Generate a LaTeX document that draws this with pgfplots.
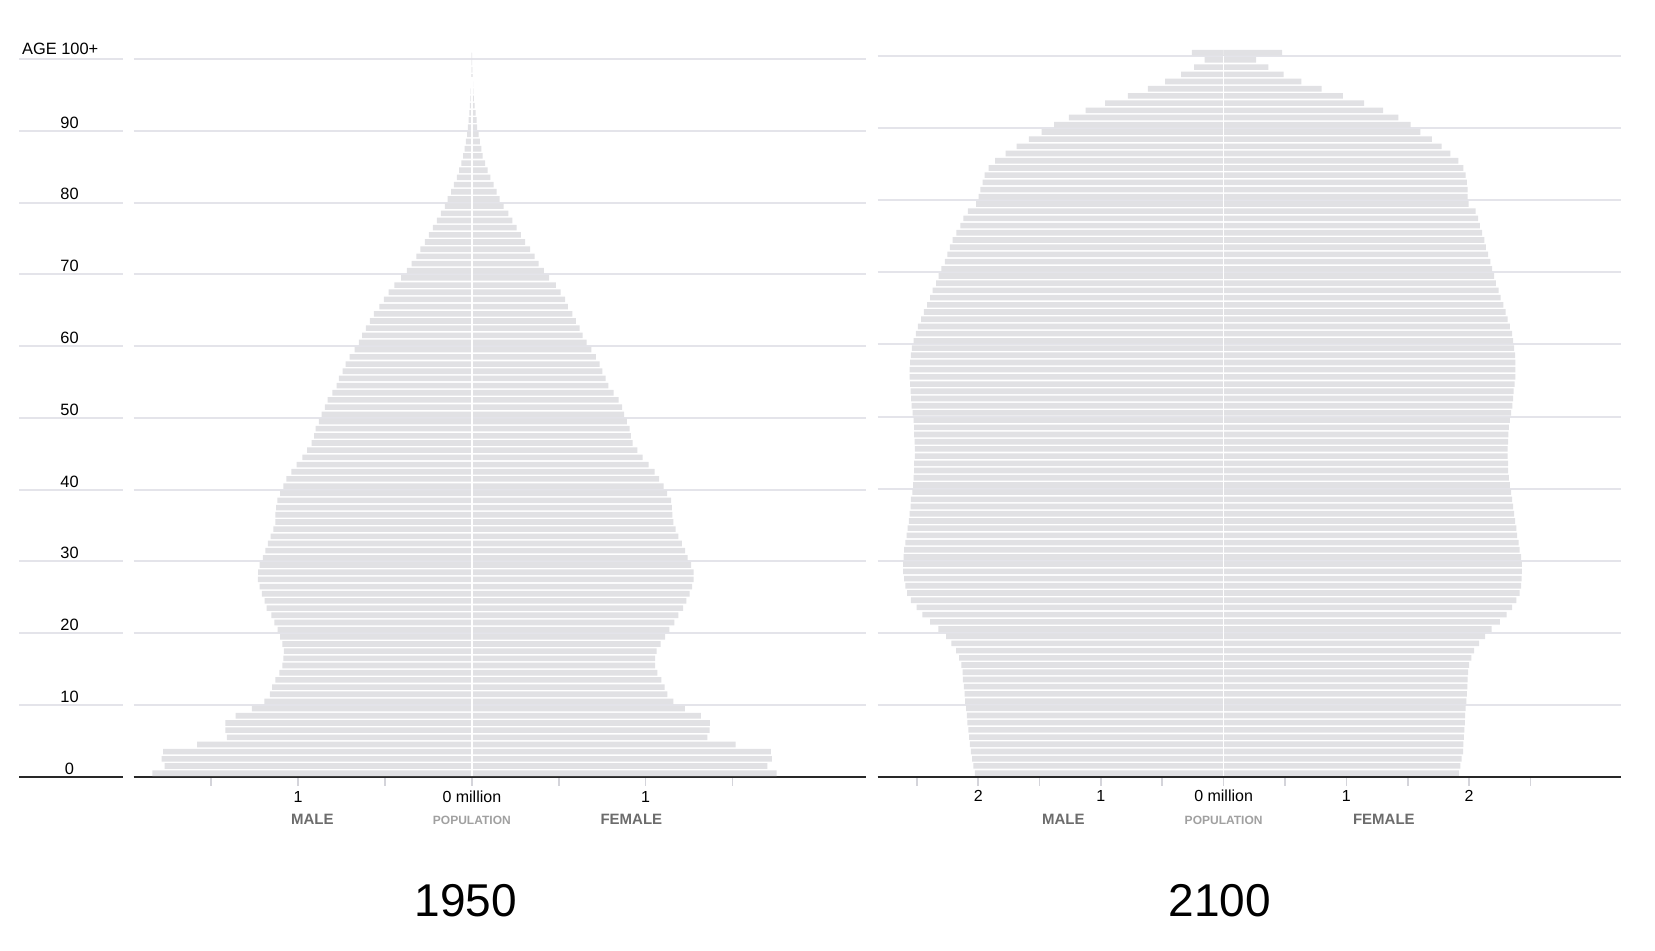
\documentclass[border=0pt]{standalone}
\usepackage{pgfplots}
\pgfplotsset{compat=1.18}
\usepackage{pgfplotstable}
\usepackage{fontspec}
\setmainfont{Liberation Sans}
\definecolor{barc}{RGB}{225,225,228}
\definecolor{gridc}{RGB}{228,228,234}
\definecolor{labc}{RGB}{108,108,108}
\definecolor{popc}{RGB}{160,160,160}
\definecolor{axc}{RGB}{40,40,40}
\definecolor{tickc}{RGB}{212,212,218}

\pgfplotstableread{
age male female
0 1.838 1.754
1 1.768 1.701
2 1.785 1.726
3 1.776 1.720
4 1.581 1.517
5 1.410 1.355
6 1.419 1.368
7 1.419 1.370
8 1.359 1.318
9 1.266 1.226
10 1.194 1.160
11 1.163 1.125
12 1.149 1.109
13 1.130 1.091
14 1.107 1.068
15 1.091 1.054
16 1.084 1.054
17 1.082 1.063
18 1.091 1.086
19 1.103 1.112
20 1.117 1.137
21 1.137 1.165
22 1.153 1.188
23 1.181 1.216
24 1.193 1.234
25 1.209 1.253
26 1.221 1.267
27 1.232 1.276
28 1.230 1.276
29 1.221 1.262
30 1.202 1.241
31 1.188 1.227
32 1.174 1.209
33 1.158 1.188
34 1.142 1.172
35 1.130 1.160
36 1.130 1.153
37 1.126 1.151
38 1.119 1.147
39 1.103 1.123
40 1.084 1.103
41 1.068 1.077
42 1.038 1.052
43 1.008 1.017
44 0.976 0.982
45 0.948 0.952
46 0.922 0.925
47 0.908 0.915
48 0.899 0.908
49 0.881 0.892
50 0.865 0.876
51 0.846 0.865
52 0.830 0.844
53 0.802 0.816
54 0.778 0.785
55 0.765 0.770
56 0.744 0.751
57 0.726 0.735
58 0.703 0.714
59 0.675 0.687
60 0.650 0.661
61 0.631 0.638
62 0.610 0.620
63 0.587 0.599
64 0.564 0.578
65 0.532 0.552
66 0.506 0.536
67 0.479 0.511
68 0.446 0.483
69 0.407 0.444
70 0.374 0.414
71 0.347 0.384
72 0.319 0.361
73 0.296 0.335
74 0.270 0.307
75 0.247 0.282
76 0.224 0.257
77 0.201 0.233
78 0.178 0.210
79 0.155 0.183
80 0.139 0.160
81 0.120 0.143
82 0.104 0.125
83 0.086 0.106
84 0.074 0.090
85 0.060 0.076
86 0.051 0.062
87 0.042 0.055
88 0.035 0.046
89 0.028 0.039
90 0.023 0.030
91 0.018 0.028
92 0.014 0.021
93 0.012 0.016
94 0.009 0.012
95 0.007 0.009
96 0.005 0.007
97 0.003 0.005
98 0.002 0.003
99 0.001 0.002
100 0.001 0.001
}\pyrA

\pgfplotstableread{
age male female
0 2.028 1.919
1 2.039 1.929
2 2.049 1.940
3 2.060 1.951
4 2.067 1.954
5 2.074 1.958
6 2.081 1.961
7 2.088 1.965
8 2.092 1.968
9 2.099 1.972
10 2.106 1.979
11 2.110 1.982
12 2.117 1.986
13 2.124 1.989
14 2.127 1.993
15 2.138 2.000
16 2.155 2.018
17 2.180 2.042
18 2.219 2.081
19 2.261 2.131
20 2.325 2.184
21 2.392 2.251
22 2.456 2.307
23 2.502 2.350
24 2.548 2.385
25 2.580 2.413
26 2.594 2.424
27 2.604 2.428
28 2.611 2.431
29 2.611 2.431
30 2.608 2.424
31 2.604 2.413
32 2.594 2.403
33 2.583 2.392
34 2.576 2.385
35 2.565 2.375
36 2.558 2.367
37 2.551 2.360
38 2.548 2.350
39 2.537 2.343
40 2.530 2.332
41 2.527 2.325
42 2.523 2.318
43 2.523 2.318
44 2.516 2.314
45 2.516 2.314
46 2.519 2.318
47 2.523 2.321
48 2.523 2.325
49 2.527 2.332
50 2.535 2.343
51 2.542 2.352
52 2.547 2.359
53 2.551 2.364
54 2.555 2.371
55 2.558 2.378
56 2.558 2.378
57 2.555 2.378
58 2.548 2.375
59 2.541 2.367
60 2.527 2.360
61 2.509 2.350
62 2.491 2.332
63 2.466 2.314
64 2.442 2.297
65 2.417 2.279
66 2.392 2.258
67 2.371 2.240
68 2.343 2.219
69 2.322 2.205
70 2.300 2.187
71 2.272 2.173
72 2.251 2.155
73 2.230 2.138
74 2.208 2.124
75 2.177 2.106
76 2.145 2.088
77 2.120 2.074
78 2.085 2.053
79 2.018 1.996
80 1.996 1.989
81 1.982 1.989
82 1.965 1.982
83 1.947 1.972
84 1.915 1.954
85 1.862 1.912
86 1.777 1.848
87 1.686 1.777
88 1.587 1.696
89 1.484 1.604
90 1.382 1.523
91 1.261 1.424
92 1.124 1.300
93 0.965 1.145
94 0.781 0.972
95 0.618 0.799
96 0.477 0.633
97 0.346 0.488
98 0.240 0.364
99 0.155 0.265
100 0.258 0.477
}\pyrB

\pgfplotsset{
  pyr/.style={
    scale only axis,
    anchor=south west,
    clip=false,
    ymin=0, ymax=101,
    axis x line*=bottom, axis y line*=left,
    axis line style={-},
    y axis line style={draw=none},
    x axis line style={draw=axc, line width=1pt},
    ytick={0,10,20,30,40,50,60,70,80,90,100},
    yticklabels={},
    ytick style={draw=none},
    ymajorgrids,
    major grid style={draw=gridc, line width=1pt},
    tick align=outside,
    major tick length=4.5pt,
    xtick style={draw=tickc, line width=0.8pt},
    tick label style={font=\fontsize{8}{9.6}\selectfont, text=black},
    xticklabel style={anchor=base, yshift=-8.1pt},
  },
  mbar/.style={xbar, bar width=0.78, bar shift=0pt, fill=barc, draw=none},
}

\begin{document}
\begin{tikzpicture}
\path[use as bounding box] (0,0) rectangle (827.5pt,475pt);

% ---------- 1950 ----------
\begin{axis}[pyr,
  at={(66.75pt,86.6pt)},
  width=366pt, height=362.5pt,
  xmin=-1.947, xmax=2.265,
  xtick={-1.5,-1,-0.5,0,0.5,1,1.5},
  xticklabels={,1,,0 million,,1,},
]
\addplot[mbar] table[x expr=-\thisrow{male}, y expr=\thisrow{age}+0.5] {\pyrA};
\addplot[mbar] table[x=female, y expr=\thisrow{age}+0.5] {\pyrA};
\addplot[white, line width=0.8pt, no marks] coordinates {(0,0.1) (0,97.5)};
\pgfplotsinvokeforeach{10,20,30,40,50,60,70,80,90,100}{
  \draw[gridc, line width=1pt] (axis cs:-2.605,#1) -- (axis cs:-2.007,#1);
}
\draw[axc, line width=1pt] (axis cs:-2.605,0) -- (axis cs:-2.007,0);
\pgfplotsinvokeforeach{0,10,20,30,40,50,60,70,80,90}{
  \node[anchor=base, inner sep=0pt, font=\fontsize{8.2}{9.8}\selectfont] at (axis cs:-2.315,#1) [yshift=1.3pt] {#1};
}
\node[anchor=base west, inner sep=0pt, font=\fontsize{8.2}{9.8}\selectfont] at (axis cs:-2.590,100) [yshift=2pt] {AGE 100+};
\node[anchor=base, inner sep=0pt, font=\bfseries\fontsize{7.5}{9}\selectfont, text=labc] at (axis cs:-0.918,0) [yshift=-23.65pt] {MALE};
\node[anchor=base, inner sep=0pt, font=\bfseries\fontsize{6}{7.2}\selectfont, text=popc] at (axis cs:0,0) [yshift=-23.65pt] {POPULATION};
\node[anchor=base, inner sep=0pt, font=\bfseries\fontsize{7.5}{9}\selectfont, text=labc] at (axis cs:0.918,0) [yshift=-23.65pt] {FEMALE};
\end{axis}

% ---------- 2100 ----------
\begin{axis}[pyr,
  at={(438.85pt,86.65pt)},
  width=371.45pt, height=363.8pt,
  xmin=-2.819, xmax=3.235,
  xtick={-2.5,-2,-1.5,-1,-0.5,0,0.5,1,1.5,2,2.5},
  xticklabels={,2,,1,,0 million,,1,,2,},
]
\addplot[mbar] table[x expr=-\thisrow{male}, y expr=\thisrow{age}+0.5] {\pyrB};
\addplot[mbar] table[x=female, y expr=\thisrow{age}+0.5] {\pyrB};
\addplot[white, line width=0.8pt, no marks] coordinates {(0,0.1) (0,100)};
\node[anchor=base, inner sep=0pt, font=\bfseries\fontsize{7.5}{9}\selectfont, text=labc] at (axis cs:-1.306,0) [yshift=-23.65pt] {MALE};
\node[anchor=base, inner sep=0pt, font=\bfseries\fontsize{6}{7.2}\selectfont, text=popc] at (axis cs:0,0) [yshift=-23.65pt] {POPULATION};
\node[anchor=base, inner sep=0pt, font=\bfseries\fontsize{7.5}{9}\selectfont, text=labc] at (axis cs:1.306,0) [yshift=-23.65pt] {FEMALE};
\end{axis}

\node[anchor=base, inner sep=0pt, font=\fontsize{23}{27}\selectfont] at (233pt,17pt) {1950};
\node[anchor=base, inner sep=0pt, font=\fontsize{23}{27}\selectfont] at (610pt,17pt) {2100};
\end{tikzpicture}
\end{document}
